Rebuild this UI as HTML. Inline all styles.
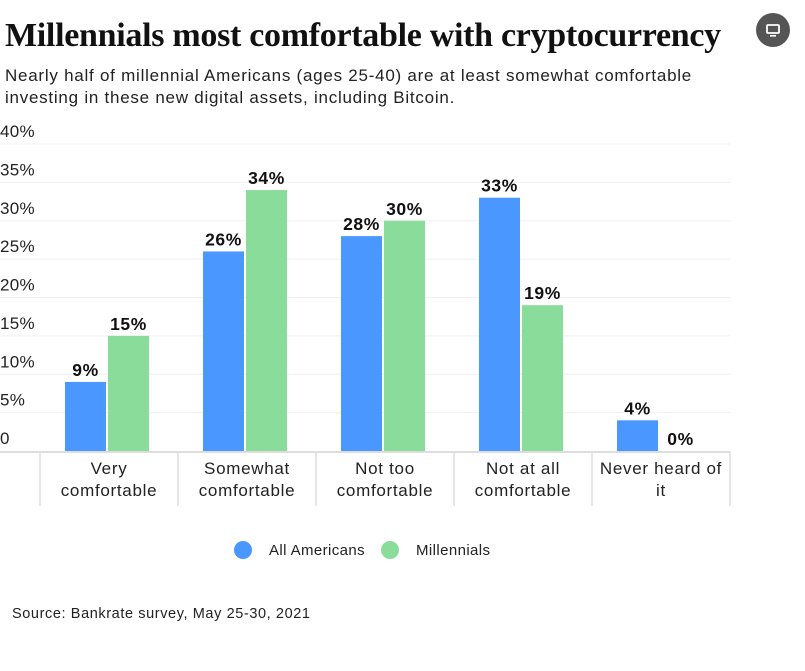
<!DOCTYPE html>
<html><head><meta charset="utf-8"><style>
body{margin:0;background:#fff;font-family:"Liberation Sans",sans-serif;width:805px;height:671px;overflow:hidden;position:relative}
h1{position:absolute;left:5px;top:17px;margin:0;font-family:"Liberation Serif",serif;font-size:34px;font-weight:bold;color:#111;letter-spacing:-0.3px;white-space:nowrap}
.sub{position:absolute;left:5px;top:65px;font-size:17px;letter-spacing:0.75px;line-height:22px;color:#222;white-space:nowrap}
.src{position:absolute;left:12px;top:606px;font-size:14.5px;letter-spacing:0.6px;color:#222}
.icon{position:absolute;left:756px;top:13px;width:34px;height:34px;border-radius:50%;background:#555}
</style></head><body>
<h1>Millennials most comfortable with cryptocurrency</h1>
<div class="sub">Nearly half of millennial Americans (ages 25-40) are at least somewhat comfortable<br>investing in these new digital assets, including Bitcoin.</div>
<div class="icon"><svg width="34" height="34"><rect x="11" y="12" width="12" height="8" rx="1" fill="none" stroke="#fff" stroke-width="1.8"/><rect x="14" y="22" width="6" height="1.6" fill="#fff"/></svg></div>
<svg id="chart" width="805" height="671" style="position:absolute;left:0;top:0"></svg>
<div class="src">Source: Bankrate survey, May 25-30, 2021</div>
<script>
const categories=[["Very","comfortable"],["Somewhat","comfortable"],["Not too","comfortable"],["Not at all","comfortable"],["Never heard of","it"]];
const allAmericans=[9,26,28,33,4];
const millennials=[15,34,30,19,0];
const ticks=[0,5,10,15,20,25,30,35,40];
const seriesNames=["All Americans","Millennials"];
const colors=["#4a98ff","#8adc9a"];
const svg=document.getElementById('chart');
const NS='http://www.w3.org/2000/svg';
const y0=451,pxPer=7.675,x0=40,gw=138;
const y=v=>y0-v*pxPer;
function mk(t,a){const e=document.createElementNS(NS,t);for(const k in a)e.setAttribute(k,a[k]);svg.appendChild(e);return e;}
ticks.forEach(t=>{
  if(t>0){const g=mk('line',{x1:0,x2:730,y1:y(t),y2:y(t),stroke:'#f0f0f0','stroke-width':1});
  
  }
  const tx=mk('text',{x:0,y:y(t)-7,'font-size':17,'letter-spacing':0.3,fill:'#222','font-family':'Liberation Sans'});
  tx.textContent=t===0?'0':t+'%';
  
  
});
const base=mk('line',{x1:0,x2:730,y1:y0+1,y2:y0+1,stroke:'#ddd','stroke-width':2});


for(let i=0;i<=categories.length;i++){
  const s=mk('line',{x1:x0+i*gw,x2:x0+i*gw,y1:y0,y2:506,stroke:'#ddd','stroke-width':1.5});
  
  
}
categories.forEach((c,i)=>{
  const gx=x0+i*gw;
  [allAmericans[i],millennials[i]].forEach((v,j)=>{
    const bx=gx+25+j*43,bw=41;
    const r=mk('rect',{x:bx,y:y(v),width:bw,height:v*pxPer,fill:colors[j]});
    
    
    const l=mk('text',{x:bx+bw/2,y:y(v)-6,'text-anchor':'middle','font-size':17.5,'letter-spacing':0.6,'font-weight':'bold',fill:'#111','font-family':'Liberation Sans'});
    l.textContent=v+'%';
    
    
  });
  c.forEach((line,k)=>{
    const t=mk('text',{x:gx+gw/2,y:474+k*22,'text-anchor':'middle','font-size':17,'letter-spacing':0.7,fill:'#222','font-family':'Liberation Sans'});
    t.textContent=line;
    
    
  });
});
const lx=[243,390];
seriesNames.forEach((n,j)=>{
  const c=mk('circle',{cx:lx[j],cy:550,r:9,fill:colors[j]});
  
  
  const t=mk('text',{x:lx[j]+26,y:555,'font-size':15,'letter-spacing':0.4,fill:'#222','font-family':'Liberation Sans'});
  t.textContent=n;
  
  
});
</script>
</body></html>
